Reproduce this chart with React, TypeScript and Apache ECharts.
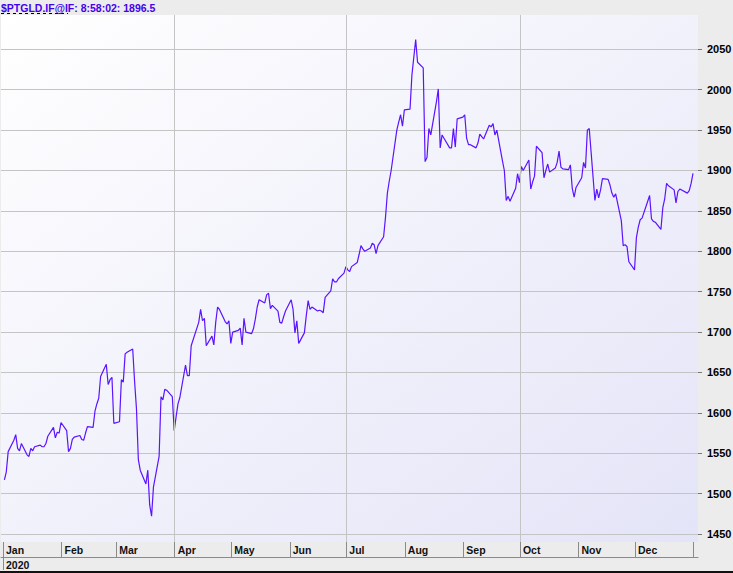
import React, { useEffect, useRef } from "react";
import * as echarts from "echarts";

const YEAR = 2020;
const TITLE_SYMBOL = "$PTGLD.IF@IF";
const TITLE_REST = ": 8:58:02: 1896.5";
const MONTHS = ["Jan", "Feb", "Mar", "Apr", "May", "Jun", "Jul", "Aug", "Sep", "Oct", "Nov", "Dec"];
const QUARTER_STARTS = ["04-01", "07-01", "10-01"];

const tradeDates = [
  "01-01","01-02","01-03","01-06","01-07","01-08","01-09","01-10","01-13","01-14","01-15","01-16","01-17","01-20","01-21","01-22","01-23","01-24","01-27","01-28","01-29","01-30","01-31",
  "02-03","02-04","02-05","02-06","02-07","02-10","02-11","02-12","02-13","02-14","02-17","02-18","02-19","02-20","02-21","02-24","02-25","02-26","02-27","02-28",
  "03-02","03-03","03-04","03-05","03-06","03-09","03-10","03-11","03-12","03-13","03-16","03-17","03-18","03-19","03-20","03-23","03-24","03-25","03-26","03-27","03-30","03-31",
  "04-01","04-02","04-03","04-06","04-07","04-08","04-09","04-13","04-14","04-15","04-16","04-17","04-20","04-21","04-22","04-23","04-24","04-27","04-28","04-29","04-30",
  "05-01","05-04","05-05","05-06","05-07","05-08","05-11","05-12","05-13","05-14","05-15","05-18","05-19","05-20","05-21","05-22","05-25","05-26","05-27","05-28","05-29",
  "06-01","06-02","06-03","06-04","06-05","06-08","06-09","06-10","06-11","06-12","06-15","06-16","06-17","06-18","06-19","06-22","06-23","06-24","06-25","06-26","06-29","06-30",
  "07-01","07-02","07-03","07-06","07-07","07-08","07-09","07-10","07-13","07-14","07-15","07-16","07-17","07-20","07-21","07-22","07-23","07-24","07-27","07-28","07-29","07-30","07-31",
  "08-03","08-04","08-05","08-06","08-07","08-10","08-11","08-12","08-13","08-14","08-17","08-18","08-19","08-20","08-21","08-24","08-25","08-26","08-27","08-28","08-31",
  "09-01","09-02","09-03","09-04","09-07","09-08","09-09","09-10","09-11","09-14","09-15","09-16","09-17","09-18","09-21","09-22","09-23","09-24","09-25","09-28","09-29","09-30",
  "10-01","10-02","10-05","10-06","10-07","10-08","10-09","10-12","10-13","10-14","10-15","10-16","10-19","10-20","10-21","10-22","10-23","10-26","10-27","10-28","10-29","10-30",
  "11-02","11-03","11-04","11-05","11-06","11-09","11-10","11-11","11-12","11-13","11-16","11-17","11-18","11-19","11-20","11-23","11-24","11-25","11-26","11-27","11-30",
  "12-01","12-02","12-03","12-04","12-07","12-08","12-09","12-10","12-11","12-14","12-15","12-16","12-17","12-18","12-21","12-22","12-23","12-24","12-28","12-29","12-30","12-31",
];

const closes = [
  1517,1527,1552,1566,1573,1556,1553,1562,1548,1546,1556,1553,1558,1560,1558,1558,1562,1571,1582,1569,1576,1575,1588,
  1578,1552,1556,1567,1570,1572,1567,1566,1575,1583,1582,1602,1611,1618,1645,1660,1635,1641,1644,1587,
  1589,1641,1638,1673,1675,1679,1639,1605,1542,1529,1512,1529,1486,1472,1508,1546,1620,1616,1629,1628,1620,1578,
  1595,1611,1619,1659,1646,1646,1683,1712,1728,1714,1717,1683,1695,1684,1712,1731,1728,1713,1710,1714,1686,
  1700,1702,1705,1684,1717,1700,1698,1704,1716,1731,1740,1736,1746,1748,1729,1733,1726,1712,1711,1719,1726,
  1740,1728,1699,1714,1686,1699,1720,1739,1728,1731,1726,1727,1726,1724,1743,1751,1766,1762,1762,1766,1773,1781,
  1777,1775,1781,1786,1796,1807,1803,1800,1804,1810,1808,1797,1807,1818,1842,1872,1887,1900,1950,1960,1969,1955,1975,
  1976,2018,2040,2062,2034,2027,1911,1916,1952,1944,1985,2001,1928,1944,1940,1928,1928,1952,1929,1964,1966,
  1969,1940,1932,1932,1928,1934,1945,1942,1939,1956,1954,1958,1944,1950,1912,1900,1863,1868,1862,1878,1896,1885,
  1905,1900,1913,1877,1886,1893,1930,1922,1891,1900,1908,1898,1903,1910,1924,1904,1902,1901,1907,1878,1867,1879,
  1891,1910,1903,1950,1952,1863,1877,1866,1876,1890,1889,1882,1872,1867,1871,1838,1807,1808,1806,1787,1777,
  1817,1830,1839,1841,1862,1869,1840,1837,1836,1827,1854,1865,1884,1881,1876,1860,1874,1877,1872,1875,1884,1896.5,
];

const DAY = 86400000;
const CLOSE_HOUR = 18;
const toTime = (md: string, hour = 0) => {
  const [m, d] = md.split("-").map(Number);
  return Date.UTC(YEAR, m - 1, d, hour);
};

export default function App() {
  const ref = useRef<HTMLDivElement>(null);
  useEffect(() => {
    if (!ref.current) return;
    const chart = echarts.init(ref.current, undefined, { renderer: "svg" });
    const yearStart = Date.UTC(YEAR, 0, 1);
    const xMin = yearStart - 1.06 * DAY;
    const xMax = yearStart + 368.4 * DAY;
    const seriesData = tradeDates.map((d, i) => [toTime(d, CLOSE_HOUR), closes[i]]);
    const monthFmt = (v: number) => {
      const d = new Date(v);
      if (d.getUTCFullYear() !== YEAR || d.getUTCDate() !== 1 || d.getUTCHours() !== 0) return "";
      return MONTHS[d.getUTCMonth()];
    };
    const yearFmt = (v: number) => {
      const d = new Date(v);
      if (d.getUTCFullYear() !== YEAR || d.getUTCMonth() !== 0 || d.getUTCDate() !== 1) return "";
      return String(YEAR);
    };
    const labelFont = "'Liberation Sans Narrow', 'Liberation Sans', sans-serif";
    chart.setOption({
      animation: false,
      useUTC: true,
      backgroundColor: "#ececec",
      title: {
        text: TITLE_SYMBOL + TITLE_REST,
        left: 1,
        top: 2,
        padding: 0,
        textStyle: {
          fontFamily: "'Liberation Sans', sans-serif",
          fontSize: 10.5,
          fontWeight: "bold",
          color: "#4400ee",
        },
      },
      graphic: [
        {
          type: "line",
          shape: { x1: 1, y1: 13.5, x2: 68, y2: 13.5 },
          style: { stroke: "#000", lineWidth: 1, lineDash: [3, 3] },
          silent: true,
        },
        {
          type: "line",
          shape: { x1: 3.5, y1: 557, x2: 3.5, y2: 570 },
          style: { stroke: "#8a8a8a", lineWidth: 1 },
          silent: true,
        },
        {
          type: "rect",
          left: 0,
          bottom: 0,
          shape: { width: 733, height: 2 },
          style: { fill: "#111" },
          silent: true,
        },
      ],
      grid: {
        left: 1,
        right: 35,
        top: 15,
        bottom: 31,
        outerBoundsMode: "none",
        containLabel: false,
        show: true,
        borderWidth: 0,
        backgroundColor: new echarts.graphic.LinearGradient(0, 0, 1, 1, [
          { offset: 0, color: "#ffffff" },
          { offset: 1, color: "#e4e4f8" },
        ]),
      },
      xAxis: [
        {
          type: "time",
          min: xMin,
          max: xMax,
          position: "bottom",
          minInterval: 28 * DAY,
          maxInterval: 31 * DAY,
          axisLine: { show: false },
          axisTick: { show: true, length: 15, lineStyle: { color: "#8a8a8a" } },
          splitLine: { show: false },
          axisLabel: {
            formatter: monthFmt,
            align: "left",
            padding: [0, 0, 0, 3],
            margin: 2,
            showMinLabel: false,
            showMaxLabel: false,
            hideOverlap: false,
            fontFamily: labelFont,
            fontSize: 10.5,
            fontWeight: "bold",
            color: "#111",
          },
        },
        {
          type: "time",
          min: xMin,
          max: xMax,
          position: "bottom",
          offset: 15,
          minInterval: 360 * DAY,
          axisLine: { show: true, lineStyle: { color: "#8a8a8a", width: 1 } },
          axisTick: { show: false },
          splitLine: { show: false },
          axisLabel: {
            formatter: yearFmt,
            align: "left",
            padding: [0, 0, 0, 3],
            margin: 2,
            showMinLabel: false,
            showMaxLabel: false,
            fontFamily: labelFont,
            fontSize: 10.5,
            fontWeight: "bold",
            color: "#111",
          },
        },
      ],
      yAxis: {
        type: "value",
        position: "right",
        min: 1440.1,
        max: 2092.5,
        splitNumber: 13,
        axisLine: { show: false },
        axisTick: { show: true, length: 4, lineStyle: { color: "#777" } },
        splitLine: {
          show: true,
          showMinLine: false,
          showMaxLine: false,
          lineStyle: { color: "#c4c4c4", width: 1 },
        },
        axisLabel: {
          margin: 9,
          showMinLabel: false,
          showMaxLabel: false,
          formatter: (v: number) => String(Math.round(v)),
          fontFamily: "'Liberation Sans', sans-serif",
          fontSize: 11,
          fontWeight: "bold",
          color: "#000",
        },
      },
      series: [
        {
          type: "line",
          xAxisIndex: 0,
          data: seriesData,
          showSymbol: false,
          symbol: "none",
          lineStyle: { color: "#5a14ff", width: 1.2 },
          markLine: {
            silent: true,
            symbol: ["none", "none"],
            label: { show: false },
            lineStyle: { color: "#c4c4c4", width: 1, type: "solid" },
            data: QUARTER_STARTS.map((q) => ({ xAxis: toTime(q) })),
          },
        },
      ],
    });
    return () => chart.dispose();
  }, []);
  return (
    <div
      ref={ref}
      style={{ position: "fixed", left: 0, top: 0, width: 733, height: 573 }}
    />
  );
}
